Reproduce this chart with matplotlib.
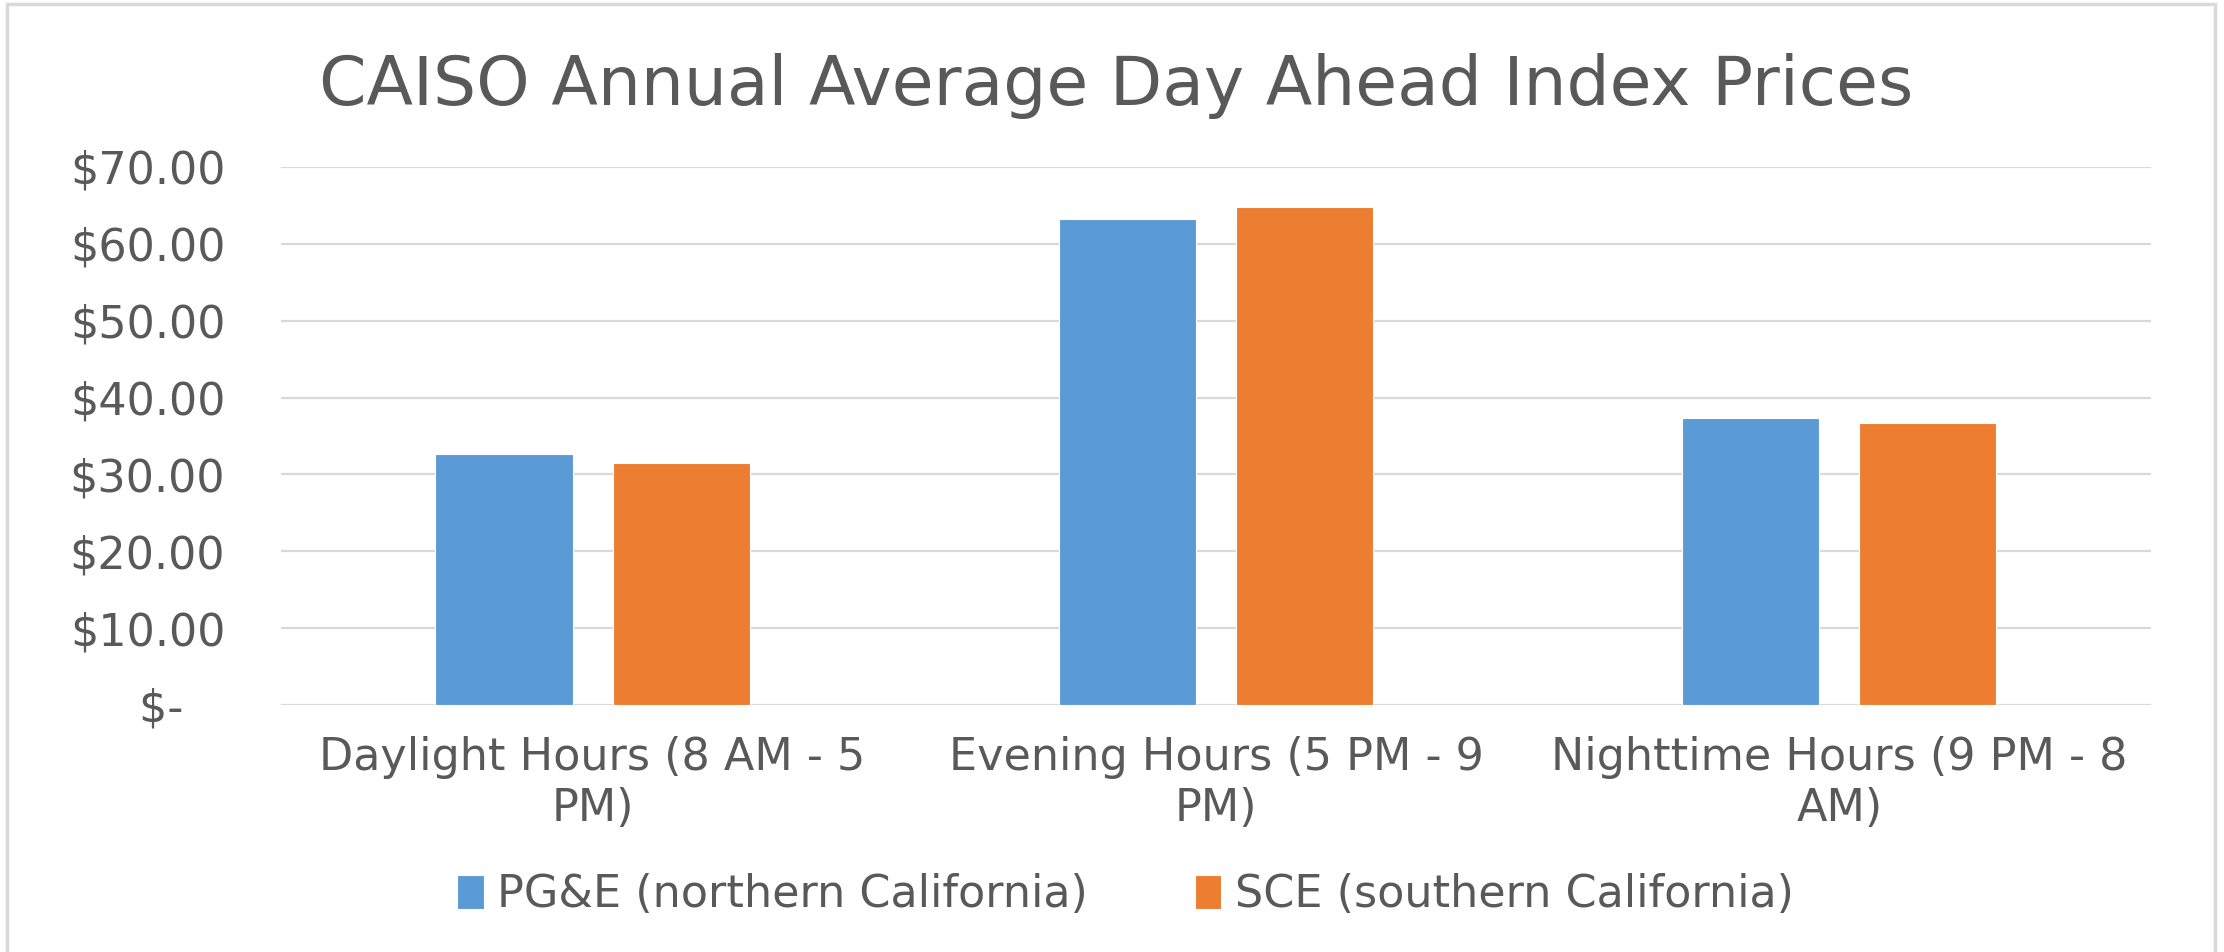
import matplotlib
matplotlib.use("Agg")
import matplotlib.pyplot as plt
import numpy as np
from matplotlib.patches import Rectangle

categories = ["Daylight Hours (8 AM - 5\nPM)", "Evening Hours (5 PM - 9\nPM)", "Nighttime Hours (9 PM - 8\nAM)"]
series_names = ["PG&E (northern California)", "SCE (southern California)"]
pge = [32.6, 63.2, 37.3]
sce = [31.5, 64.8, 36.7]
yticks = [0, 10, 20, 30, 40, 50, 60, 70]
ytick_labels = ["$-   ", "$10.00", "$20.00", "$30.00", "$40.00", "$50.00", "$60.00", "$70.00"]

BLUE, ORANGE, TXT, GRID = "#5b9bd5", "#ed7d31", "#595959", "#d9d9d9"
plt.rcParams.update({"font.family": "DejaVu Sans"})

fig = plt.figure(figsize=(22.24, 9.52), dpi=100)
ax = fig.add_axes([0.1263, 0.2595, 0.8409, 0.5651])

x = np.arange(len(categories))
w, off = 0.22, 0.142
ax.bar(x - off, pge, w, color=BLUE, edgecolor="white", lw=0.8, label=series_names[0], zorder=3)
ax.bar(x + off, sce, w, color=ORANGE, edgecolor="white", lw=0.8, label=series_names[1], zorder=3)

ax.set_xlim(-0.5, 2.5)
ax.set_ylim(0, 70)
ax.set_yticks(yticks)
ax.set_yticklabels(ytick_labels)
ax.set_xticks(x)
ax.set_xticklabels(categories, linespacing=1.25)
ax.tick_params(axis="y", length=0, pad=40, labelsize=32, labelcolor=TXT)
ax.tick_params(axis="x", length=0, pad=22, labelsize=32, labelcolor=TXT)
ax.grid(axis="y", color=GRID, lw=1.6, zorder=0)
for sp in ax.spines.values():
    sp.set_visible(False)

fig.text(0.502, 0.91, "CAISO Annual Average Day Ahead Index Prices",
         ha="center", va="center", fontsize=49, color=TXT)

fig.legend(loc="center", bbox_to_anchor=(0.506, 0.06), ncol=2, frameon=False,
           fontsize=32, labelcolor=TXT, handlelength=0.6, handleheight=0.8,
           handletextpad=0.3, columnspacing=2.4)

# light outer chart border (cropped at bottom)
fig.patches.append(Rectangle((7 / 2224, -0.05), 2208 / 2224, 1.05 - 4 / 952,
                             transform=fig.transFigure, fill=False,
                             edgecolor=GRID, lw=2.5))

fig.savefig("out.png", dpi=100, facecolor="white")
